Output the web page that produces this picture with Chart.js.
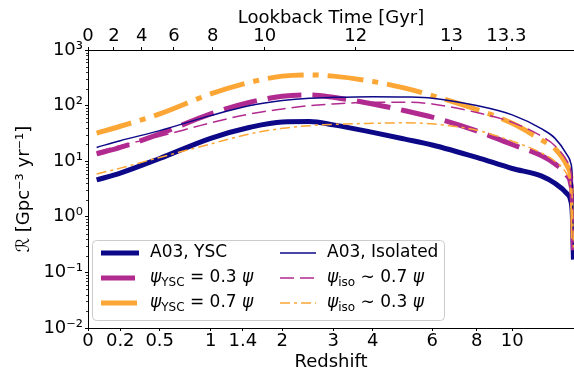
<!DOCTYPE html>
<html>
<head>
<meta charset="utf-8">
<script src="https://cdn.jsdelivr.net/npm/chart.js@4.4.0/dist/chart.umd.min.js"></script>
<style>
  html, body { margin: 0; padding: 0; background: #fff; }
  #wrap { width: 574px; height: 372px; }
</style>
</head>
<body>
<div id="wrap"><canvas id="rateChart" width="574" height="372"></canvas></div>
<script>
// redshift samples shared by every curve
const redshift = [0.05, 0.2, 0.5, 1, 1.5, 2, 2.5, 3, 4, 5, 6, 8, 10, 12, 13, 14, 14.3, 14.45, 14.55];

// merger rate density [Gpc^-3 yr^-1]
const a03Ysc   = [4.6, 6.1, 11.2, 25.8, 40.8, 50.8, 51.5, 45, 33, 25, 19.6, 11.7, 7.4, 5.4, 4.0, 2.6, 2.0, 1.1, 0.17];
const ysc03    = [13.5, 17.7, 31, 71, 115, 147, 156, 141, 107, 81, 62, 35, 20, 12.5, 9, 5.5, 4, 2, 0.25];
const ysc07    = [32, 42.5, 71, 162, 263, 339, 357, 339, 272, 206, 151, 85, 48, 24, 17, 8.3, 5.5, 2.5, 0.3];
const a03Iso   = [17.7, 23.4, 35.5, 66, 100, 123, 136, 141, 145, 143, 136, 100, 68, 38, 26, 13, 9.5, 5, 0.3];
const iso07    = [14.8, 19, 28, 49, 71, 87, 100, 107, 115, 115, 107, 75, 50, 28, 19, 10, 7, 3.5, 0.3];
const iso03    = [5.9, 7.5, 11.7, 20.4, 31, 39, 43.6, 46, 48, 49, 47, 36, 23, 14, 10, 5.8, 4, 2, 0.25];

const seriesLabels = ['A03, YSC', 'ψ_{YSC} = 0.3 ψ', 'ψ_{YSC} = 0.7 ψ',
                      'A03, Isolated', 'ψ_{iso} ∼ 0.7 ψ', 'ψ_{iso} ∼ 0.3 ψ'];

const zTicks = [0, 0.2, 0.5, 1, 1.4, 2, 3, 4, 6, 8, 10];
const zTickLabels = ['0', '0.2', '0.5', '1', '1.4', '2', '3', '4', '6', '8', '10'];
const lookbackLabels = ['0', '2', '4', '6', '8', '10', '12', '13', '13.3'];
const lookbackZ = [0, 0.158, 0.355, 0.626, 1.023, 1.716, 3.54, 6.80, 9.64];
const yTicks = [0.01, 0.1, 1, 10, 100, 1000];
const yTickLabels = ['10⁻²', '10⁻¹', '10⁰', '10¹', '10²', '10³'];
const zMax = 14.6;

const toX = z => Math.log10(1 + z);

const navy = '#0d0887';
const purple = '#b12a90';
const orange = '#fca636';

Chart.defaults.font.family = '"DejaVu Sans"';
Chart.defaults.color = '#000';

function series(label, values, color, width, dash, idx) {
    return {
        label: label,
        data: redshift.map((z, i) => ({ x: toX(z), y: values[i] })),
        borderColor: color,
        borderWidth: width,
        borderDash: dash,
        borderJoinStyle: 'round',
        pointRadius: 0,
        fill: false,
        cubicInterpolationMode: 'monotone',
        order: 10 - idx
    };
}

// draws "ψ_{YSC} = 0.3 ψ" style labels with subscript + italic psi
function drawLabel(ctx, text, x, y) {
    ctx.fillStyle = '#000';
    ctx.textBaseline = 'middle';
    ctx.textAlign = 'left';
    const re = /_\{([^}]*)\}|ψ|[^_ψ]+/g;
    let m;
    while ((m = re.exec(text))) {
        let t = m[0], dy = 0;
        if (m[1] !== undefined) {
            t = m[1];
            ctx.font = '12px "DejaVu Sans"';
            dy = 5;
        } else if (t === 'ψ') {
            ctx.font = 'italic 17px "DejaVu Sans"';
        } else {
            ctx.font = '17px "DejaVu Sans"';
        }
        ctx.fillText(t, x, y + dy);
        x += ctx.measureText(t).width;
    }
}

const legendBox = {
    id: 'legendBox',
    afterDatasetsDraw(chart) {
        const { ctx, chartArea } = chart;
        const bx = chartArea.left + 4, by = chartArea.bottom - 88;
        ctx.save();
        ctx.beginPath();
        ctx.roundRect(bx + 0.5, by + 0.5, 352, 80, 4);
        ctx.fillStyle = 'rgba(255,255,255,0.8)';
        ctx.fill();
        ctx.strokeStyle = '#cccccc';
        ctx.lineWidth = 1;
        ctx.stroke();
        chart.data.datasets.forEach((ds, i) => {
            const col = Math.floor(i / 3), row = i % 3;
            const y = by + 13 + row * 25;
            ctx.beginPath();
            ctx.setLineDash(ds.borderDash || []);
            ctx.lineWidth = ds.borderWidth;
            ctx.strokeStyle = ds.borderColor;
            ctx.moveTo(bx + (col ? 188 : 9), y);
            ctx.lineTo(bx + (col ? 224 : 47), y);
            ctx.stroke();
            ctx.setLineDash([]);
            drawLabel(ctx, ds.label, bx + (col ? 235 : 58), y);
        });
        ctx.restore();
    }
};

// minor ticks on the log axis
const minorTicks = {
    id: 'minorTicks',
    afterDraw(chart) {
        const { ctx } = chart;
        const y = chart.scales.y;
        ctx.save();
        ctx.strokeStyle = '#000';
        ctx.lineWidth = 0.8;
        for (let k = -2; k < 3; k++) {
            for (let m = 2; m < 10; m++) {
                const py = Math.round(y.getPixelForValue(m * Math.pow(10, k))) + 0.5;
                ctx.beginPath();
                ctx.moveTo(y.right - 2, py);
                ctx.lineTo(y.right, py);
                ctx.stroke();
            }
        }
        ctx.restore();
    }
};

const ctx = document.getElementById('rateChart').getContext('2d');

const axisBorder = { display: true, color: '#000', width: 1 };
const axisGrid = { display: true, drawOnChartArea: false, tickLength: 3, tickColor: '#000', tickWidth: 1 };

new Chart(ctx, {
    type: 'line',
    data: {
        datasets: [
            series(seriesLabels[0], a03Ysc, navy, 5, [], 0),
            series(seriesLabels[1], ysc03, purple, 5, [34, 11], 1),
            series(seriesLabels[2], ysc07, orange, 5, [36, 9, 6, 9], 2),
            series(seriesLabels[3], a03Iso, navy, 1.5, [], 3),
            series(seriesLabels[4], iso07, purple, 1.5, [14, 6], 4),
            series(seriesLabels[5], iso03, orange, 1.5, [10, 4, 3, 4], 5)
        ]
    },
    options: {
        responsive: false,
        animation: false,
        devicePixelRatio: 1,
        layout: { padding: 0 },
        plugins: { legend: { display: false }, tooltip: { enabled: false } },
        scales: {
            x: {
                type: 'linear',
                position: 'bottom',
                min: 0,
                max: toX(zMax),
                border: axisBorder,
                grid: axisGrid,
                afterBuildTicks: s => { s.ticks = zTicks.map(z => ({ value: toX(z) })); },
                afterFit: s => { s.height = 44; },
                ticks: {
                    autoSkip: false, maxRotation: 0, padding: 0,
                    font: { size: 18 },
                    callback: (v, i) => zTickLabels[i]
                },
                title: { display: true, text: 'Redshift', font: { size: 18 }, padding: { top: 0, bottom: -1 } }
            },
            x2: {
                type: 'linear',
                position: 'top',
                min: 0,
                max: toX(zMax),
                border: axisBorder,
                grid: axisGrid,
                afterBuildTicks: s => { s.ticks = lookbackZ.map(z => ({ value: toX(z) })); },
                afterFit: s => { s.height = 50; },
                ticks: {
                    autoSkip: false, maxRotation: 0, padding: 0,
                    font: { size: 18 },
                    callback: (v, i) => lookbackLabels[i]
                },
                title: { display: true, text: 'Lookback Time [Gyr]', font: { size: 18 }, padding: { top: 8, bottom: 0 } }
            },
            y: {
                type: 'logarithmic',
                position: 'left',
                min: 0.01,
                max: 1000,
                border: axisBorder,
                grid: axisGrid,
                afterBuildTicks: s => { s.ticks = yTicks.map(v => ({ value: v })); },
                afterFit: s => { s.width = 88; },
                ticks: {
                    autoSkip: false, padding: 2,
                    font: { size: 18 },
                    callback: (v, i) => yTickLabels[i]
                },
                title: { display: true, text: 'ℛ [Gpc⁻³ yr⁻¹]', font: { size: 18 }, padding: { top: 14, bottom: 0 } }
            }
        }
    },
    plugins: [legendBox, minorTicks]
});
</script>
</body>
</html>
